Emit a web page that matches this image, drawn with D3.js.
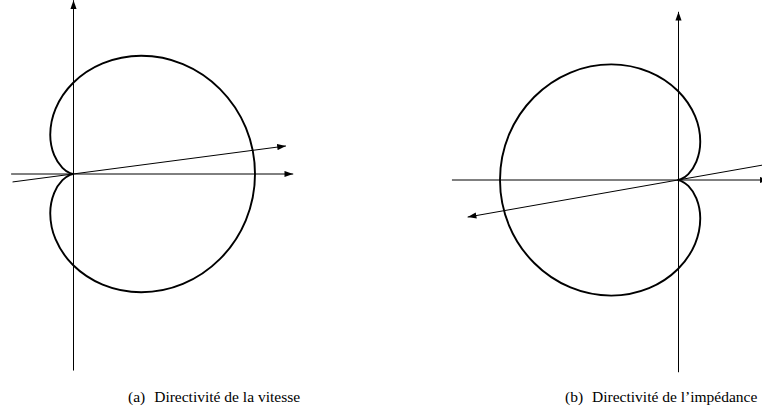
<!DOCTYPE html>
<html>
<head>
<meta charset="utf-8">
<script src="https://cdn.jsdelivr.net/npm/d3@7"></script>
<style>
    body { margin: 0; background: #fff; }
    svg { display: block; }
</style>
</head>
<body>
<div id="chart"></div>
<script>
// directivity pattern (relative radius every 15 degrees)
const angles = [0, 15, 30, 45, 60, 75, 90, 105, 120, 135, 150, 165, 180,
    195, 210, 225, 240, 255, 270, 285, 300, 315, 330, 345];
const radii = [1.000, 0.983, 0.933, 0.854, 0.750, 0.629, 0.500, 0.371, 0.250, 0.146, 0.067, 0.017, 0.000,
    0.017, 0.067, 0.146, 0.250, 0.371, 0.500, 0.629, 0.750, 0.854, 0.933, 0.983];

// axis extents and oblique arrow, in units of the pattern maximum
const panelA = { origin: [73, 174], unit: 182, flip: 1,
    axisX: [-0.34, 1.21], axisY: [-1.08, 0.955], tilt: 7.5, arrow: [-0.335, 1.18] };
const panelB = { origin: [678, 180], unit: 178, flip: -1,
    axisX: [-0.51, 1.27], axisY: [-1.08, 0.945], tilt: -10, arrow: [-0.6, 1.2] };

const captions = [
    { label: "(a)", text: "Directivité de la vitesse", x: 128 },
    { label: "(b)", text: "Directivité de l’impédance", x: 565 }
];

const width = 762, height = 416;

const svg = d3.select("#chart")
    .append("svg")
    .attr("width", width)
    .attr("height", height);

const defs = svg.append("defs");
defs.append("marker")
    .attr("id", "head")
    .attr("markerUnits", "userSpaceOnUse")
    .attr("viewBox", "0 -4 10 8")
    .attr("refX", 10)
    .attr("refY", 0)
    .attr("markerWidth", 9)
    .attr("markerHeight", 7)
    .attr("orient", "auto")
    .append("path")
    .attr("d", "M0,-3.5L10,0L0,3.5Z")
    .attr("fill", "#000");

function drawPanel(p) {
    // x runs along the main lobe direction, mirrored for panel b
    let x = d3.scaleLinear()
        .domain([0, 1])
        .range([p.origin[0], p.origin[0] + p.flip * p.unit]);
    let y = d3.scaleLinear()
        .domain([0, 1])
        .range([p.origin[1], p.origin[1] - p.unit]);

    let g = svg.append("g");

    // horizontal axis always points right
    g.append("line")
        .attr("x1", Math.min(x(p.axisX[0]), x(p.axisX[1])))
        .attr("x2", Math.max(x(p.axisX[0]), x(p.axisX[1])))
        .attr("y1", y(0))
        .attr("y2", y(0));

    g.append("line")
        .attr("x1", x(0) + 0.5)
        .attr("x2", x(0) + 0.5)
        .attr("y1", y(p.axisY[0]))
        .attr("y2", y(p.axisY[1]));

    // oblique direction arrow through the origin
    const t = p.tilt * Math.PI / 180;
    g.append("line")
        .attr("x1", x(p.arrow[0] * Math.cos(t)))
        .attr("y1", y(p.arrow[0] * Math.sin(t)))
        .attr("x2", x(p.arrow[1] * Math.cos(t)))
        .attr("y2", y(p.arrow[1] * Math.sin(t)));

    g.selectAll("line")
        .attr("stroke", "#000")
        .attr("stroke-width", 1)
        .attr("marker-end", "url(#head)");

    let r = d3.scaleLinear().domain([0, 1]).range([0, p.unit]);
    let curve = d3.lineRadial()
        .angle((d, i) => p.flip * Math.PI / 2 + angles[i] * Math.PI / 180)
        .radius(d => r(d))
        .curve(d3.curveCatmullRomClosed);

    g.append("path")
        .attr("transform", `translate(${p.origin[0]}, ${p.origin[1]})`)
        .attr("d", curve(radii))
        .attr("fill", "none")
        .attr("stroke", "#000")
        .attr("stroke-width", 1.9);
}

drawPanel(panelA);
drawPanel(panelB);

/* captions */
let cap = svg.selectAll(".caption")
    .data(captions)
    .enter().append("text")
    .attr("class", "caption")
    .attr("x", d => d.x)
    .attr("y", 402)
    .attr("font-family", "'Liberation Serif', 'Times New Roman', serif")
    .attr("font-size", 15.5)
    .attr("fill", "#000");
cap.append("tspan").text(d => d.label);
cap.append("tspan").attr("dx", 9).text(d => d.text);
</script>
</body>
</html>
